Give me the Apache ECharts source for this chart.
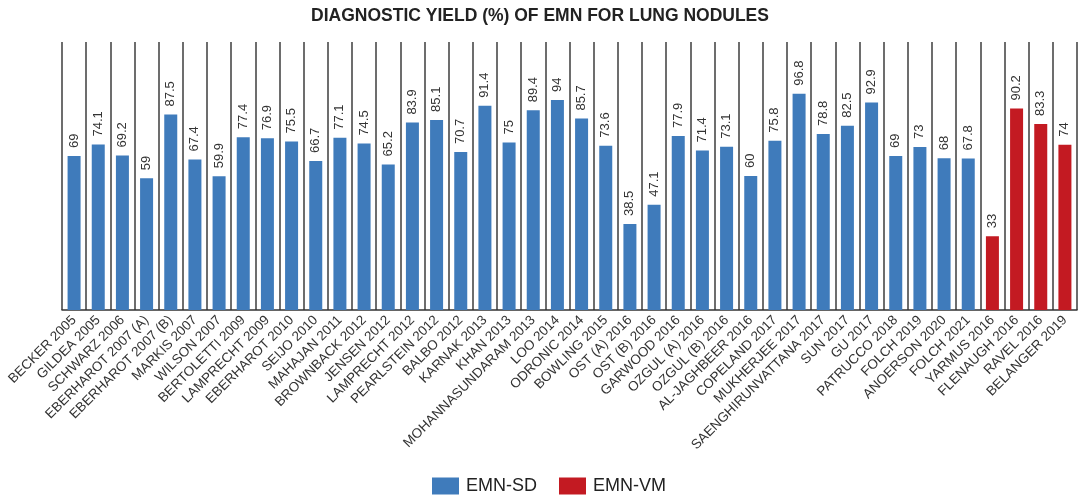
<!DOCTYPE html>
<html>
<head>
<meta charset="utf-8">
<script src="https://cdn.jsdelivr.net/npm/echarts@6/dist/echarts.min.js"></script>
<style>
  html, body { margin: 0; padding: 0; background: #fff; }
  #chart { width: 1080px; height: 497px; }
</style>
</head>
<body>
<div id="chart"></div>
<script>
// Studies using EMN with standard diagnostic approach (EMN-SD)
const sdStudies = [
  'BECKER 2005', 'GILDEA 2005', 'SCHWARZ 2006', 'EBERHAROT 2007 (A)', 'EBERHAROT 2007 (B)',
  'MARKIS 2007', 'WILSON 2007', 'BERTOLETTI 2009', 'LAMPRECHT 2009', 'EBERHAROT 2010',
  'SEIJO 2010', 'MAHAJAN 2011', 'BROWNBACK 2012', 'JENSEN 2012', 'LAMPRECHT 2012',
  'PEARLSTEIN 2012', 'BALBO 2012', 'KARNAK 2013', 'KHAN 2013', 'MOHANNASUNDARAM 2013',
  'LOO 2014', 'ODRONIC 2014', 'BOWLING 2015', 'OST (A) 2016', 'OST (B) 2016',
  'GARWOOD 2016', 'OZGUL (A) 2016', 'OZGUL (B) 2016', 'AL-JAGHBEER 2016', 'COPELAND 2017',
  'MUKHERJEE 2017', 'SAENGHIRUNVATTANA 2017', 'SUN 2017', 'GU 2017', 'PATRUCCO 2018',
  'FOLCH 2019', 'ANOERSON 2020', 'FOLCH 2021'
];
const sdValues = [
  69, 74.1, 69.2, 59, 87.5,
  67.4, 59.9, 77.4, 76.9, 75.5,
  66.7, 77.1, 74.5, 65.2, 83.9,
  85.1, 70.7, 91.4, 75, 89.4,
  94, 85.7, 73.6, 38.5, 47.1,
  77.9, 71.4, 73.1, 60, 75.8,
  96.8, 78.8, 82.5, 92.9, 69,
  73, 68, 67.8
];

// Studies using EMN with virtual/mixed approach (EMN-VM)
const vmStudies = ['YARMUS 2016', 'FLENAUGH 2016', 'RAVEL 2016', 'BELANGER 2019'];
const vmValues = [33, 90.2, 83.3, 74];

const categories = sdStudies.concat(vmStudies);
const sdSeriesData = sdValues.concat(vmStudies.map(() => '-'));
const vmSeriesData = sdStudies.map(() => '-').concat(vmValues);

const FONT = '"Liberation Sans", Arial, Helvetica, sans-serif';

const valueLabel = {
  show: true,
  position: 'top',
  rotate: 90,
  align: 'left',
  verticalAlign: 'middle',
  distance: 8,
  color: '#333',
  fontSize: 13,
  fontFamily: FONT
};

const chart = echarts.init(document.getElementById('chart'), null, { renderer: 'canvas' });
chart.setOption({
  animation: false,
  backgroundColor: '#fff',
  title: {
    text: 'DIAGNOSTIC YIELD (%) OF EMN FOR LUNG NODULES',
    left: 'center',
    top: 2,
    textStyle: { fontFamily: FONT, fontSize: 17.5, fontWeight: 'bold', color: '#222' }
  },
  legend: {
    left: 432,
    top: 477,
    padding: 0,
    icon: 'rect',
    itemWidth: 27,
    itemHeight: 17,
    itemGap: 22,
    textStyle: { fontFamily: FONT, fontSize: 18, color: '#222', padding: [0, 0, 0, 2] },
    data: ['EMN-SD', 'EMN-VM']
  },
  grid: { left: 62, right: 3, top: 42, bottom: 187, containLabel: false },
  xAxis: {
    type: 'category',
    data: categories,
    boundaryGap: true,
    axisLine: { show: true, lineStyle: { color: '#333', width: 1.5 } },
    axisTick: { show: false },
    axisLabel: {
      interval: 0,
      rotate: 45,
      margin: 8,
      color: '#333',
      fontSize: 13.5,
      fontFamily: FONT
    },
    splitLine: { show: true, interval: 0, lineStyle: { color: '#3c3c3c', width: 1.5 } }
  },
  yAxis: {
    type: 'value',
    min: 0,
    max: 120,
    show: false,
    splitLine: { show: false }
  },
  series: [
    {
      name: 'EMN-SD',
      type: 'bar',
      stack: 'yield',
      barWidth: 13,
      itemStyle: { color: '#3f7bbb' },
      label: valueLabel,
      data: sdSeriesData
    },
    {
      name: 'EMN-VM',
      type: 'bar',
      stack: 'yield',
      barWidth: 13,
      itemStyle: { color: '#c31a22' },
      label: valueLabel,
      data: vmSeriesData
    }
  ]
});
</script>
</body>
</html>
